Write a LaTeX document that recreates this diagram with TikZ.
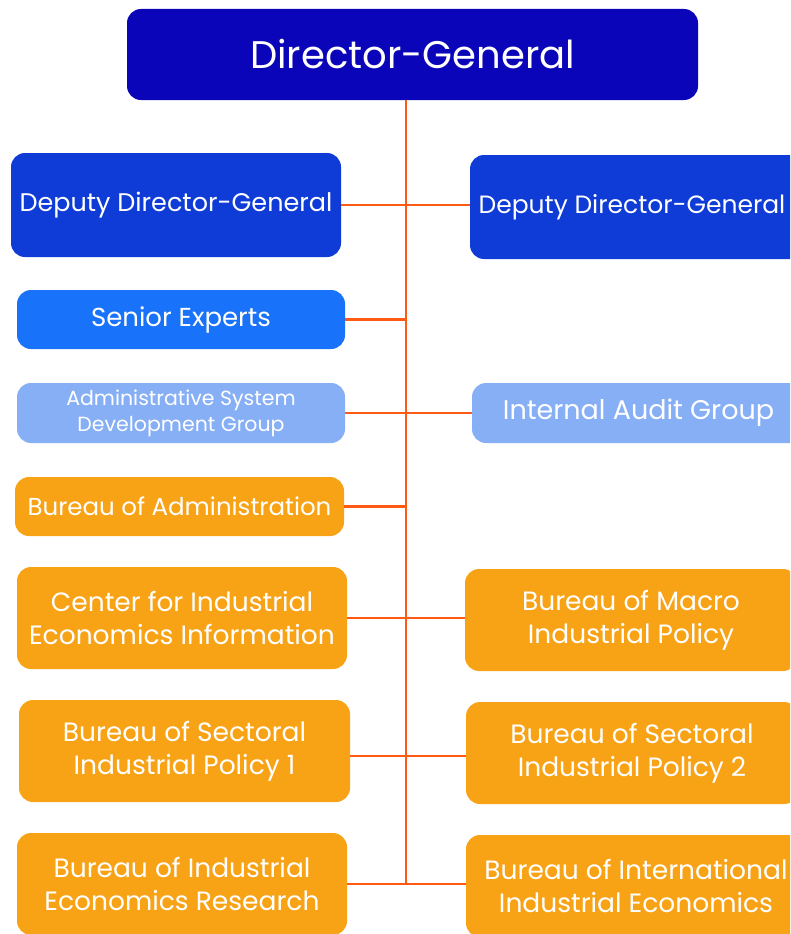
\documentclass[tikz,border=0pt]{standalone}
\usepackage{fontspec}
\setmainfont{Poppins}
\definecolor{dgblue}{RGB}{10,5,184}
\definecolor{depblue}{RGB}{15,60,215}
\definecolor{midblue}{RGB}{25,115,250}
\definecolor{lightblue}{RGB}{135,175,245}
\definecolor{orangebox}{RGB}{248,163,22}
\definecolor{linkred}{RGB}{255,90,20}
\begin{document}
\begin{tikzpicture}[x=1pt,y=-1pt,
  box/.style={rounded corners=14pt, text=white, align=center, inner sep=0pt, font=\fontsize{25}{33}\selectfont},
  twoline/.style={box, fill=orangebox, minimum height=102pt, font=\fontsize{26.5}{33}\selectfont},
  link/.style={draw=linkred, line width=2.5pt}]
\useasboundingbox (0,0) rectangle (790,934);
\clip (0,0) rectangle (790,934);
\coordinate (top) at (406,100);
\coordinate (bot) at (406,885);
\node[box, fill=dgblue, minimum width=571pt, minimum height=91pt, font=\fontsize{38.5}{42}\selectfont] (dg) at (412.5,54.5) {Director-General};
\node[box, fill=depblue, minimum width=330pt, minimum height=104pt, font=\fontsize{25.5}{33}\selectfont] (dl) at (176,205) {Deputy Director-General};
\node[box, fill=depblue, minimum width=335pt, minimum height=104pt] (dr) at (637.5,207) {};
\node[text=white, inner sep=0pt, font=\fontsize{25}{33}\selectfont] (drt) at (632,207) {Deputy Director-General};
\node[box, fill=midblue, minimum width=328pt, minimum height=59pt, font=\fontsize{26}{33}\selectfont] (se) at (181,319.5) {Senior Experts};
\node[box, fill=lightblue, minimum width=328pt, minimum height=60pt, font=\fontsize{20.5}{26}\selectfont] (ad) at (181,413) {Administrative System\\Development Group};
\node[box, fill=lightblue, minimum width=333pt, minimum height=60pt, font=\fontsize{27}{33}\selectfont] (ia) at (638.5,413) {Internal Audit Group};
\node[box, fill=orangebox, minimum width=329pt, minimum height=59pt, font=\fontsize{24.5}{33}\selectfont] (ba) at (179.5,506.5) {Bureau of Administration};
\node[twoline, minimum width=330pt] (ci) at (182,618) {Center for Industrial\\Economics Information};
\node[twoline, minimum width=332pt] (mp) at (631,620) {Bureau of Macro\\Industrial Policy};
\node[twoline, minimum width=331pt] (s1) at (184.5,751) {Bureau of Sectoral\\Industrial Policy 1};
\node[twoline, minimum width=332pt] (s2) at (632,753) {Bureau of Sectoral\\Industrial Policy 2};
\node[twoline, minimum width=330pt] (ir) at (182,884) {Bureau of Industrial\\Economics Research};
\node[twoline, minimum width=340pt] (ie) at (636,886) {Bureau of International\\Industrial Economics};
\draw[link] (top) -- (bot);
\draw[link] (dl.east) -- (dl.east -| dr.west);
\draw[link] (se.east) -- (se.east -| top);
\draw[link] (ad.east) -- (ad.east -| ia.west);
\draw[link] (ba.east) -- (ba.east -| top);
\draw[link] (ci.east) -- (ci.east -| mp.west);
\draw[link] ([yshift=-5pt]s1.east) -- ([yshift=-5pt]s1.east -| s2.west);
\draw[link] (ir.east) -- (ir.east -| ie.west);
\end{tikzpicture}
\end{document}
